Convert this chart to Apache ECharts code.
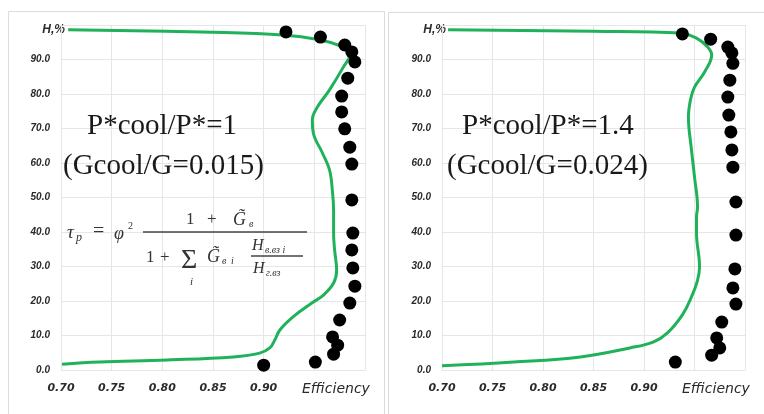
<!DOCTYPE html>
<html><head><meta charset="utf-8">
<script src="https://cdn.jsdelivr.net/npm/echarts@6/dist/echarts.min.js"></script>
<style>html,body{margin:0;padding:0;background:#fff}#c{width:764px;height:414px}</style>
</head><body><div id="c"></div>
<script>
// Left panel: P*cool/P* = 1
const leftLineEff = [0.707,0.850,0.919,0.955,0.977,0.986,0.978,0.965,0.953,0.948,0.949,0.958,0.965,0.968,0.969,0.969,0.970,0.972,0.969,0.959,0.949,0.929,0.916,0.911,0.906,0.896,0.870,0.805,0.738,0.701];
const leftLineH   = [98.6,97.9,97.1,95.7,93.8,92.0,87.5,81.2,76.2,72.5,68.7,62.9,58.0,51.3,46.4,39.7,34.8,29.0,25.2,21.7,19.7,15.4,11.6,8.7,6.4,4.9,3.8,2.9,2.3,1.7];
const leftDotEff  = [0.922,0.956,0.980,0.987,0.990,0.983,0.977,0.977,0.980,0.985,0.987,0.987,0.988,0.987,0.988,0.990,0.985,0.975,0.968,0.973,0.969,0.951,0.900];
const leftDotH    = [98.0,96.5,94.2,92.2,89.3,84.6,79.4,74.8,69.9,64.6,59.7,49.3,39.7,34.8,29.6,24.3,19.4,14.5,9.6,7.2,4.6,2.3,1.4];
// Right panel: P*cool/P* = 1.4
const rightLineEff = [0.706,0.850,0.936,0.952,0.963,0.967,0.960,0.950,0.946,0.944,0.947,0.950,0.953,0.952,0.952,0.955,0.953,0.947,0.938,0.923,0.909,0.886,0.837,0.771,0.700];
const rightLineH   = [98.6,98.2,97.7,96.2,93.6,91.3,86.4,82.0,78.3,73.3,63.8,56.0,47.2,44.4,39.7,29.9,26.0,21.2,16.0,10.7,8.1,6.4,3.8,2.3,1.2];
const rightDotEff  = [0.938,0.966,0.983,0.987,0.988,0.985,0.983,0.984,0.986,0.987,0.988,0.991,0.991,0.990,0.988,0.991,0.977,0.972,0.975,0.967,0.931];
const rightDotH    = [97.4,95.9,93.6,91.9,88.9,84.0,79.1,73.9,69.0,63.8,58.8,48.7,39.1,29.3,23.8,19.1,13.9,9.3,6.4,4.3,2.3];
// Axis ranges and texts
const xMin = 0.70, xMax = 1.00, xStep = 0.05;
const yMin = 0, yMax = 100, yStep = 10;
const xName = 'Efficiency', yName = 'H,%';
const leftTitle = ['P*cool/P*=1', '(Gcool/G=0.015)'];
const rightTitle = ['P*cool/P*=1.4', '(Gcool/G=0.024)'];

function pairs(a, b) { return a.map((v, i) => [v, b[i]]); }
const GREEN = '#1fb25a';
const GRID_C = '#e6e6e6';

function mkX(idx) {
  return {
    gridIndex: idx, type: 'value', min: xMin, max: xMax, interval: xStep,
    axisLine: { show: true, lineStyle: { color: GRID_C } },
    axisTick: { show: false },
    splitLine: { show: true, lineStyle: { color: GRID_C, width: 1 } },
    axisLabel: {
      margin: 13, color: '#2a2a2a', fontFamily: 'DejaVu Sans', fontStyle: 'italic', fontWeight: 'bold', fontSize: 11,
      formatter: v => (v > 0.925 ? '' : v.toFixed(2))
    },
    name: xName, nameLocation: 'end', nameGap: -63,
    nameTextStyle: { color: '#2a2a2a', fontFamily: 'DejaVu Sans', fontStyle: 'italic', fontSize: 14,
      verticalAlign: 'top', align: 'left', padding: [12, 0, 0, 0] }
  };
}
function mkY(idx) {
  return {
    gridIndex: idx, type: 'value', min: yMin, max: yMax, interval: yStep,
    axisLine: { show: true, lineStyle: { color: GRID_C } },
    axisTick: { show: false },
    splitLine: { show: true, lineStyle: { color: GRID_C, width: 1 } },
    axisLabel: {
      margin: 11, color: '#2a2a2a', fontFamily: 'Liberation Sans', fontStyle: 'italic', fontWeight: 'bold', fontSize: 10,
      formatter: v => (v > 95 ? '' : v.toFixed(1))
    },
    name: yName, nameLocation: 'end', nameGap: -11,
    nameTextStyle: { color: '#2a2a2a', fontFamily: 'Liberation Sans', fontStyle: 'italic', fontWeight: 'bold', fontSize: 12,
      align: 'right', verticalAlign: 'bottom', padding: [0, -4, 0, 0] }
  };
}
function lineS(idx, e, h) {
  return { type: 'line', xAxisIndex: idx, yAxisIndex: idx, data: pairs(e, h), smooth: 0.4, smoothMonotone: 'none',
    symbol: 'none', lineStyle: { color: GREEN, width: 3 }, z: 3 };
}
function dotS(idx, e, h) {
  return { type: 'scatter', xAxisIndex: idx, yAxisIndex: idx, data: pairs(e, h), symbolSize: 13,
    itemStyle: { color: '#000', opacity: 1 }, z: 4 };
}
const serif = 'Liberation Serif';
function bigText(x, y, t) {
  return { type: 'text', left: x, top: y, z: 10, style: { text: t, font: '29px "' + serif + '"', fill: '#1a1a1a' } };
}
function ftxt(x, y, t, size, italic, align) {
  return { type: 'text', x: x, y: y, z: 10, style: { text: t, font: (italic ? 'italic ' : '') + size + 'px "' + serif + '"',
    fill: '#333', textAlign: align || 'left', textVerticalAlign: 'middle' } };
}
const formula = [
  ftxt(67, 233, 'τ', 19, true), ftxt(76, 238, 'р', 12, true),
  ftxt(93, 232, '=', 20, false), ftxt(114, 234, 'φ', 18, true), ftxt(128, 226, '2', 10, false),
  { type: 'line', z: 10, shape: { x1: 143, y1: 232, x2: 307, y2: 232 }, style: { stroke: '#444', lineWidth: 1.3 } },
  ftxt(186, 220, '1', 17, false), ftxt(207, 220, '+', 17, false), ftxt(233, 220, 'G̃', 18, true), ftxt(249, 224, 'в', 10, true),
  ftxt(146, 258, '1', 17, false), ftxt(160, 258, '+', 17, false),
  ftxt(181, 261, 'Σ', 28, false), ftxt(190, 282, 'i', 11, true),
  ftxt(207, 257, 'G̃', 18, true), ftxt(222, 261, 'в', 10, true), ftxt(231, 261, 'i', 10, true),
  ftxt(252, 246, 'H', 16, true), ftxt(265, 250, 'в.вз i', 10, true),
  { type: 'line', z: 10, shape: { x1: 251, y1: 256, x2: 303, y2: 256 }, style: { stroke: '#444', lineWidth: 1.3 } },
  ftxt(253, 269, 'H', 16, true), ftxt(266, 273, 'г.вз', 10, true)
];

const option = {
  backgroundColor: '#fff',
  animation: false,
  grid: [
    { left: 61, top: 25, width: 304, height: 345 },
    { left: 442, top: 25, width: 303, height: 345 }
  ],
  xAxis: [mkX(0), mkX(1)],
  yAxis: [mkY(0), mkY(1)],
  series: [
    lineS(0, leftLineEff, leftLineH), dotS(0, leftDotEff, leftDotH),
    lineS(1, rightLineEff, rightLineH), dotS(1, rightDotEff, rightDotH)
  ],
  graphic: [
    { type: 'rect', z: 0, shape: { x: 8.5, y: 11.5, width: 376, height: 420 }, style: { fill: 'none', stroke: '#dcdcdc', lineWidth: 1 } },
    { type: 'rect', z: 0, shape: { x: 388.5, y: 12.5, width: 400, height: 420 }, style: { fill: 'none', stroke: '#dcdcdc', lineWidth: 1 } },
    bigText(87, 112, leftTitle[0]), bigText(63, 152, leftTitle[1]),
    bigText(462, 112, rightTitle[0]), bigText(447, 152, rightTitle[1])
  ].concat(formula)
};
const chart = echarts.init(document.getElementById('c'));
chart.setOption(option);
</script></body></html>
